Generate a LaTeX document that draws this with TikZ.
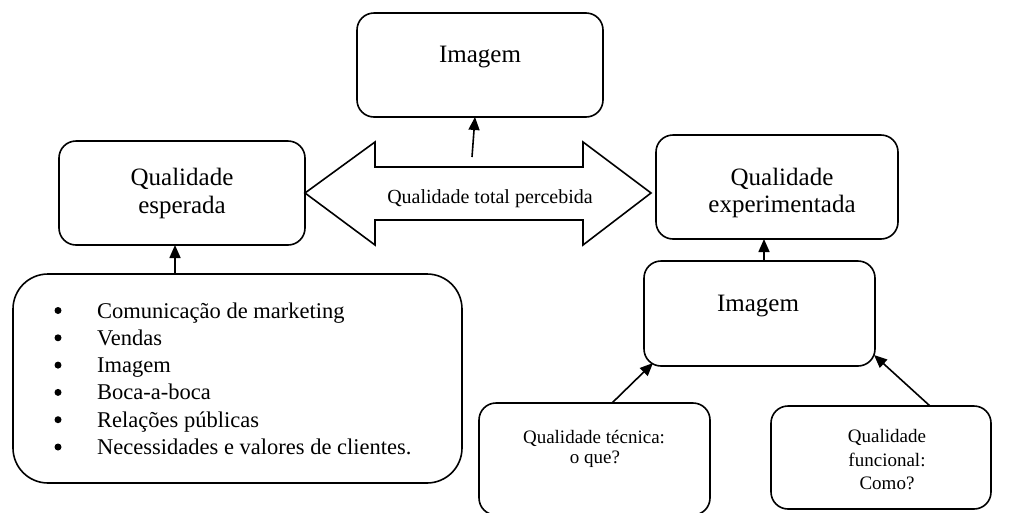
\documentclass[tikz,border=0pt]{standalone}
\usepackage{fontspec}
\setmainfont{Liberation Serif}
\usetikzlibrary{arrows.meta}
\tikzset{
  box/.style={draw, line width=1.6pt, rounded corners=17pt, inner sep=0pt},
  bigfont/.style={font=\fontsize{25}{30}\selectfont},
  listfont/.style={font=\fontsize{22.5}{27}\selectfont},
  smallfont/.style={font=\fontsize{19}{23}\selectfont},
  midfont/.style={font=\fontsize{20}{24}\selectfont},
  txt/.style={anchor=base, inner sep=0pt},
  bulletdot/.style={circle, fill, inner sep=0pt, minimum size=7pt},
  conn/.style={line width=1.6pt, -{Triangle[length=13pt,width=11pt]}},
}
\begin{document}
\begin{tikzpicture}[x=1pt,y=-1pt]
\useasboundingbox (0,0) rectangle (1022,512);
% boxes
\node[box, minimum width=246pt, minimum height=104pt] (img1) at (480,65) {};
\node[box, minimum width=246pt, minimum height=104pt] (esp) at (182,193) {};
\node[box, minimum width=242pt, minimum height=104pt] (exp) at (777,187) {};
\node[box, rounded corners=35pt, minimum width=449pt, minimum height=209pt] (list) at (237.5,378.5) {};
\node[box, minimum width=231pt, minimum height=105pt] (img2) at (759.5,313.5) {};
\node[box, minimum width=231pt, minimum height=112pt] (tech) at (594.5,459) {};
\node[box, minimum width=220pt, minimum height=103pt] (func) at (881,457.5) {};
% double arrow
\draw[line width=1.6pt, line join=miter] (305,193) -- (375,142) -- (375,167) -- (583,167) -- (583,142) -- (651,193) -- (583,245) -- (583,220) -- (375,220) -- (375,245) -- cycle;
\node[txt, midfont] (dat) at (490,203) {Qualidade total percebida};
% labels
\node[txt, bigfont] (img1t) at (480,62) {Imagem};
\node[txt, bigfont] (esp1) at (182,185) {Qualidade};
\node[txt, bigfont] (esp2) at (182,213) {esperada};
\node[txt, bigfont] (exp1) at (782,185) {Qualidade};
\node[txt, bigfont] (exp2) at (782,212) {experimentada};
\node[txt, bigfont] (img2t) at (758,311) {Imagem};
\node[txt, smallfont] (tech1) at (594,443) {Qualidade técnica:};
\node[txt, smallfont] (tech2) at (595,463) {o que?};
\node[txt, smallfont] (func1) at (887,442) {Qualidade};
\node[txt, smallfont] (func2) at (887,466) {funcional:};
\node[txt, smallfont] (func3) at (887,489) {Como?};
% list
\foreach \t [count=\i from 0] in {Comunicação de marketing, Vendas, Imagem, Boca-a-boca, Relações públicas, Necessidades e valores de clientes.}{
  \node[bulletdot] (b\i) at (58,318-7.5+27.3*\i) {};
  \node[txt, listfont, anchor=base west] (l\i) at (97,318+27.3*\i) {\t};
}
% connectors
\coordinate (c1s) at (175,274); \coordinate (c1e) at (175,245);
\coordinate (c2s) at (472,157); \coordinate (c2e) at (475,117);
\coordinate (c3s) at (764,261); \coordinate (c3e) at (764,239);
\coordinate (c4s) at (612,403); \coordinate (c4e) at (653,363);
\coordinate (c5s) at (930,406); \coordinate (c5e) at (874,355);
\draw[conn] (c1s) -- (c1e);
\draw[conn] (c2s) -- (c2e);
\draw[conn] (c3s) -- (c3e);
\draw[conn] (c4s) -- (c4e);
\draw[conn] (c5s) -- (c5e);
\end{tikzpicture}
\end{document}
